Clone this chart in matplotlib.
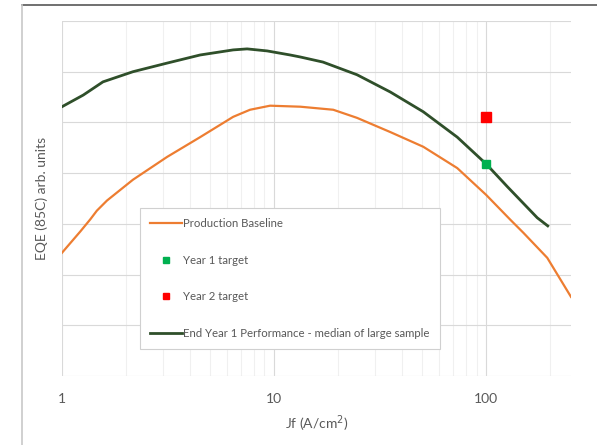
import matplotlib

matplotlib.use("Agg")
import matplotlib.pyplot as plt
from matplotlib.lines import Line2D
from matplotlib.ticker import FixedLocator, NullFormatter

# Production baseline (orange)
base_jf = [1.0, 1.22, 1.36, 1.46, 1.63, 2.16, 3.13, 4.48, 6.41, 7.7, 9.57,
           13.3, 19.0, 24.6, 35.3, 50.5, 73.0, 100, 130, 150, 194, 251]
base_eqe = [2.43, 2.85, 3.09, 3.26, 3.46, 3.87, 4.32, 4.71, 5.11, 5.25, 5.33,
            5.31, 5.25, 5.09, 4.81, 4.52, 4.10, 3.57, 3.08, 2.82, 2.33, 1.56]

# End Year 1 performance (dark green)
perf_jf = [1.0, 1.26, 1.56, 2.16, 3.13, 4.48, 6.41, 7.46, 9.27, 11.9, 13.3,
           17.0, 24.6, 35.3, 50.5, 73.0, 100, 126, 174, 195]
perf_eqe = [5.31, 5.54, 5.80, 6.00, 6.17, 6.33, 6.43, 6.45, 6.41, 6.33, 6.29,
            6.19, 5.94, 5.60, 5.21, 4.71, 4.18, 3.73, 3.12, 2.96]

# targets
year1_jf, year1_eqe = [100], [4.18]
year2_jf, year2_eqe = [100], [5.11]

x_ticks = [1, 10, 100]
x_labels = ["1", "10", "100"]

orange = "#ED7D31"
green = "#2F4F2A"
text_c = "#595959"
grid_c = "#D9D9D9"

plt.rcParams["font.family"] = ["Lato", "DejaVu Sans"]

fig = plt.figure(figsize=(5.97, 4.45), dpi=100)
ax = fig.add_axes([62 / 597, 1 - 376 / 445, 509 / 597, 355 / 445])

ax.plot(base_jf, base_eqe, color=orange, linewidth=1.6)
ax.plot(perf_jf, perf_eqe, color=green, linewidth=2.0)
ax.plot(year1_jf, year1_eqe, "s", color="#00B050", markersize=6, zorder=5)
ax.plot(year2_jf, year2_eqe, "s", color="#FF0000", markersize=7, zorder=5)

ax.set_xscale("log")
ax.set_xlim(1, 251)
ax.set_ylim(0, 7)
ax.xaxis.set_major_locator(FixedLocator(x_ticks))
ax.set_xticklabels(x_labels)
minor = [m * d for d in (1, 10, 100) for m in range(2, 10) if m * d < 251]
ax.xaxis.set_minor_locator(FixedLocator(minor))
ax.xaxis.set_minor_formatter(NullFormatter())
ax.set_yticks(range(8))
ax.set_yticklabels([])

ax.grid(which="major", color=grid_c, linewidth=0.8)
ax.grid(which="minor", axis="x", color="#F0F0F0", linewidth=0.8)
ax.set_axisbelow(True)
for s in ax.spines.values():
    s.set_visible(False)
ax.tick_params(which="both", length=0, labelsize=10, colors=text_c, pad=12)

ax.set_xlabel("Jf (A/cm$^2$)", fontsize=10, color=text_c, labelpad=6)
ax.set_ylabel("EQE (85C) arb. units", fontsize=10, color=text_c)
ax.yaxis.set_label_coords((48 - 62) / 509, 0.5)

handles = [
    Line2D([], [], color=orange, linewidth=1.6),
    Line2D([], [], marker="s", color="#00B050", linestyle="none", markersize=5),
    Line2D([], [], marker="s", color="#FF0000", linestyle="none", markersize=5),
    Line2D([], [], color=green, linewidth=2.0),
]
labels = ["Production Baseline", "Year 1 target", "Year 2 target",
          "End Year 1 Performance - median of large sample"]
leg = ax.legend(handles, labels, loc="upper left",
                bbox_to_anchor=((134 - 62) / 509, (376 - 202) / 355),
                fontsize=8.2, labelspacing=2.25, handlelength=2.8,
                handletextpad=0.1, borderpad=0.9, fancybox=False,
                framealpha=1, edgecolor="#D0D0D0", labelcolor=text_c)
leg.get_frame().set_linewidth(0.8)

# outer frame (top and left only)
fig.add_artist(Line2D([22 / 597, 1], [1 - 5 / 445, 1 - 5 / 445],
                      color="#707070", linewidth=1.4))
fig.add_artist(Line2D([22 / 597, 22 / 597], [0, 1 - 5 / 445],
                      color="#C8C8C8", linewidth=1.2))

fig.savefig("out.png", dpi=100)
